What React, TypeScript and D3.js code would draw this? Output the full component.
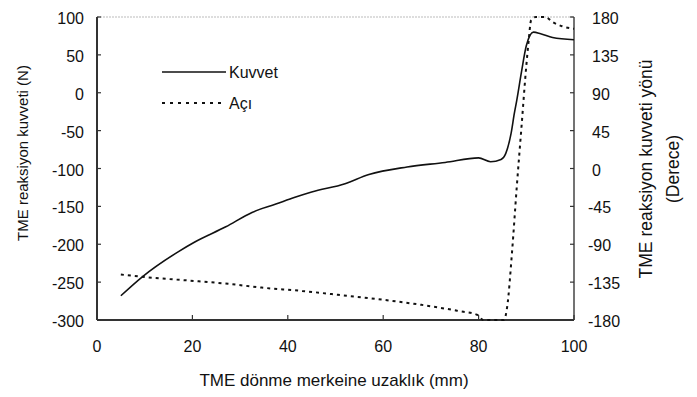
import React from 'react';
import * as d3 from 'd3';

const width = 697;
const height = 397;
const margin = { left: 97, right: 123, top: 17, bottom: 77 };

// Kuvvet (N) — left axis
const forceX = [5, 9.5, 17, 20.5, 27, 32.5, 37.5, 41.5, 45, 52, 57, 65, 73, 80, 82.5, 84.7, 85.7, 86.8, 87.5, 88, 89, 90, 91.5, 93, 95.5, 100];
const forceY = [-268, -243, -210, -197, -177, -158, -147, -138, -131, -120, -108, -98, -92, -86, -91, -88, -80, -54, -27, -10, 28, 62, 80, 78, 73, 70];

// Açı (derece) — right axis
const angleX = [5, 12, 19, 27.5, 34.5, 43, 50.5, 60, 68, 75.5, 79.8, 81, 85.3, 86, 87, 88, 89, 90, 90.5, 91, 92, 94, 95.5, 97.5, 100];
const angleY = [-126, -130, -133, -137, -141.5, -145.5, -150, -156, -162, -169, -174, -180, -180, -164, -100, -22, 50, 122, 152, 176, 180, 180, 174, 169, 166];

const xTicks = [0, 20, 40, 60, 80, 100];
const leftTicks = [100, 50, 0, -50, -100, -150, -200, -250, -300];
const rightTicks = [180, 135, 90, 45, 0, -45, -90, -135, -180];

const font = 'Liberation Sans, Arial, sans-serif';

export default function App() {
  const x = d3.scaleLinear().domain([0, 100]).range([margin.left, width - margin.right]);
  const yL = d3.scaleLinear().domain([-300, 100]).range([height - margin.bottom, margin.top]);
  const yR = d3.scaleLinear().domain([-180, 180]).range([height - margin.bottom, margin.top]);

  const forceLine = d3.line<number>()
    .x((d, i) => x(forceX[i]))
    .y(d => yL(d))
    .curve(d3.curveMonotoneX);
  const angleLine = d3.line<number>()
    .x((d, i) => x(angleX[i]))
    .y(d => yR(Math.min(180, Math.max(-180, d))))
    .curve(d3.curveMonotoneX);

  const x0 = x(0), x1 = x(100), yb = yL(-300), yt = yL(100);

  return (
    <svg width={width} height={height} style={{ position: 'absolute', left: 0, top: 0, background: '#fff' }}
      fontFamily={font}>
      {/* frame */}
      <line x1={x0} x2={x1} y1={yt} y2={yt} stroke="#bbb" strokeWidth={1} strokeDasharray="2,1" />
      <line x1={x0} x2={x0} y1={yt} y2={yb} stroke="#333" strokeWidth={2} />
      <line x1={x0} x2={x1} y1={yb} y2={yb} stroke="#333" strokeWidth={2} />
      <line x1={x1} x2={x1} y1={yt} y2={yb} stroke="#444" strokeWidth={1.5} />

      {leftTicks.map(t => (
        <g key={'l' + t}>
          <line x1={x0} x2={x0 + 4} y1={yL(t)} y2={yL(t)} stroke="#333" strokeWidth={1.2} />
          <text x={x0 - 13} y={yL(t) + 7} fontSize={16} textAnchor="end" fill="#111">{t}</text>
        </g>
      ))}
      {rightTicks.map(t => (
        <g key={'r' + t}>
          <line x1={x1 - 4} x2={x1} y1={yR(t)} y2={yR(t)} stroke="#333" strokeWidth={1.2} />
          <text x={t < 0 ? x1 + 14 : x1 + 18} y={yR(t) + 7} fontSize={16} textAnchor="start" fill="#111">{t}</text>
        </g>
      ))}
      {xTicks.map(t => (
        <g key={'x' + t}>
          <line x1={x(t)} x2={x(t)} y1={yb} y2={yb - 5} stroke="#333" strokeWidth={1.2} />
          <text x={x(t)} y={yb + 32} fontSize={16} textAnchor="middle" fill="#111">{t}</text>
        </g>
      ))}

      <path d={forceLine(forceY) || ''} fill="none" stroke="#111" strokeWidth={1.6} />
      <path d={angleLine(angleY) || ''} fill="none" stroke="#111" strokeWidth={2} strokeDasharray="3,4" />

      {/* legend */}
      <line x1={162} x2={226} y1={72} y2={72} stroke="#111" strokeWidth={1.6} />
      <text x={229} y={78} fontSize={16} fill="#111">Kuvvet</text>
      <line x1={162} x2={226} y1={103} y2={103} stroke="#111" strokeWidth={2} strokeDasharray="3,5" />
      <text x={229} y={109} fontSize={16} fill="#111">Açı</text>

      {/* axis titles */}
      <text x={334} y={386} fontSize={17} textAnchor="middle" fill="#111">TME dönme merkeine uzaklık (mm)</text>
      <text transform={`translate(28,153) rotate(-90)`} fontSize={15} textAnchor="middle" fill="#111">
        TME reaksiyon kuvveti (N)
      </text>
      <text transform={`translate(652,169) rotate(-90)`} fontSize={17.5} textAnchor="middle" fill="#111">
        TME reaksiyon kuvveti yönü
      </text>
      <text transform={`translate(679,169) rotate(-90)`} fontSize={17.5} textAnchor="middle" fill="#111">
        (Derece)
      </text>
    </svg>
  );
}
